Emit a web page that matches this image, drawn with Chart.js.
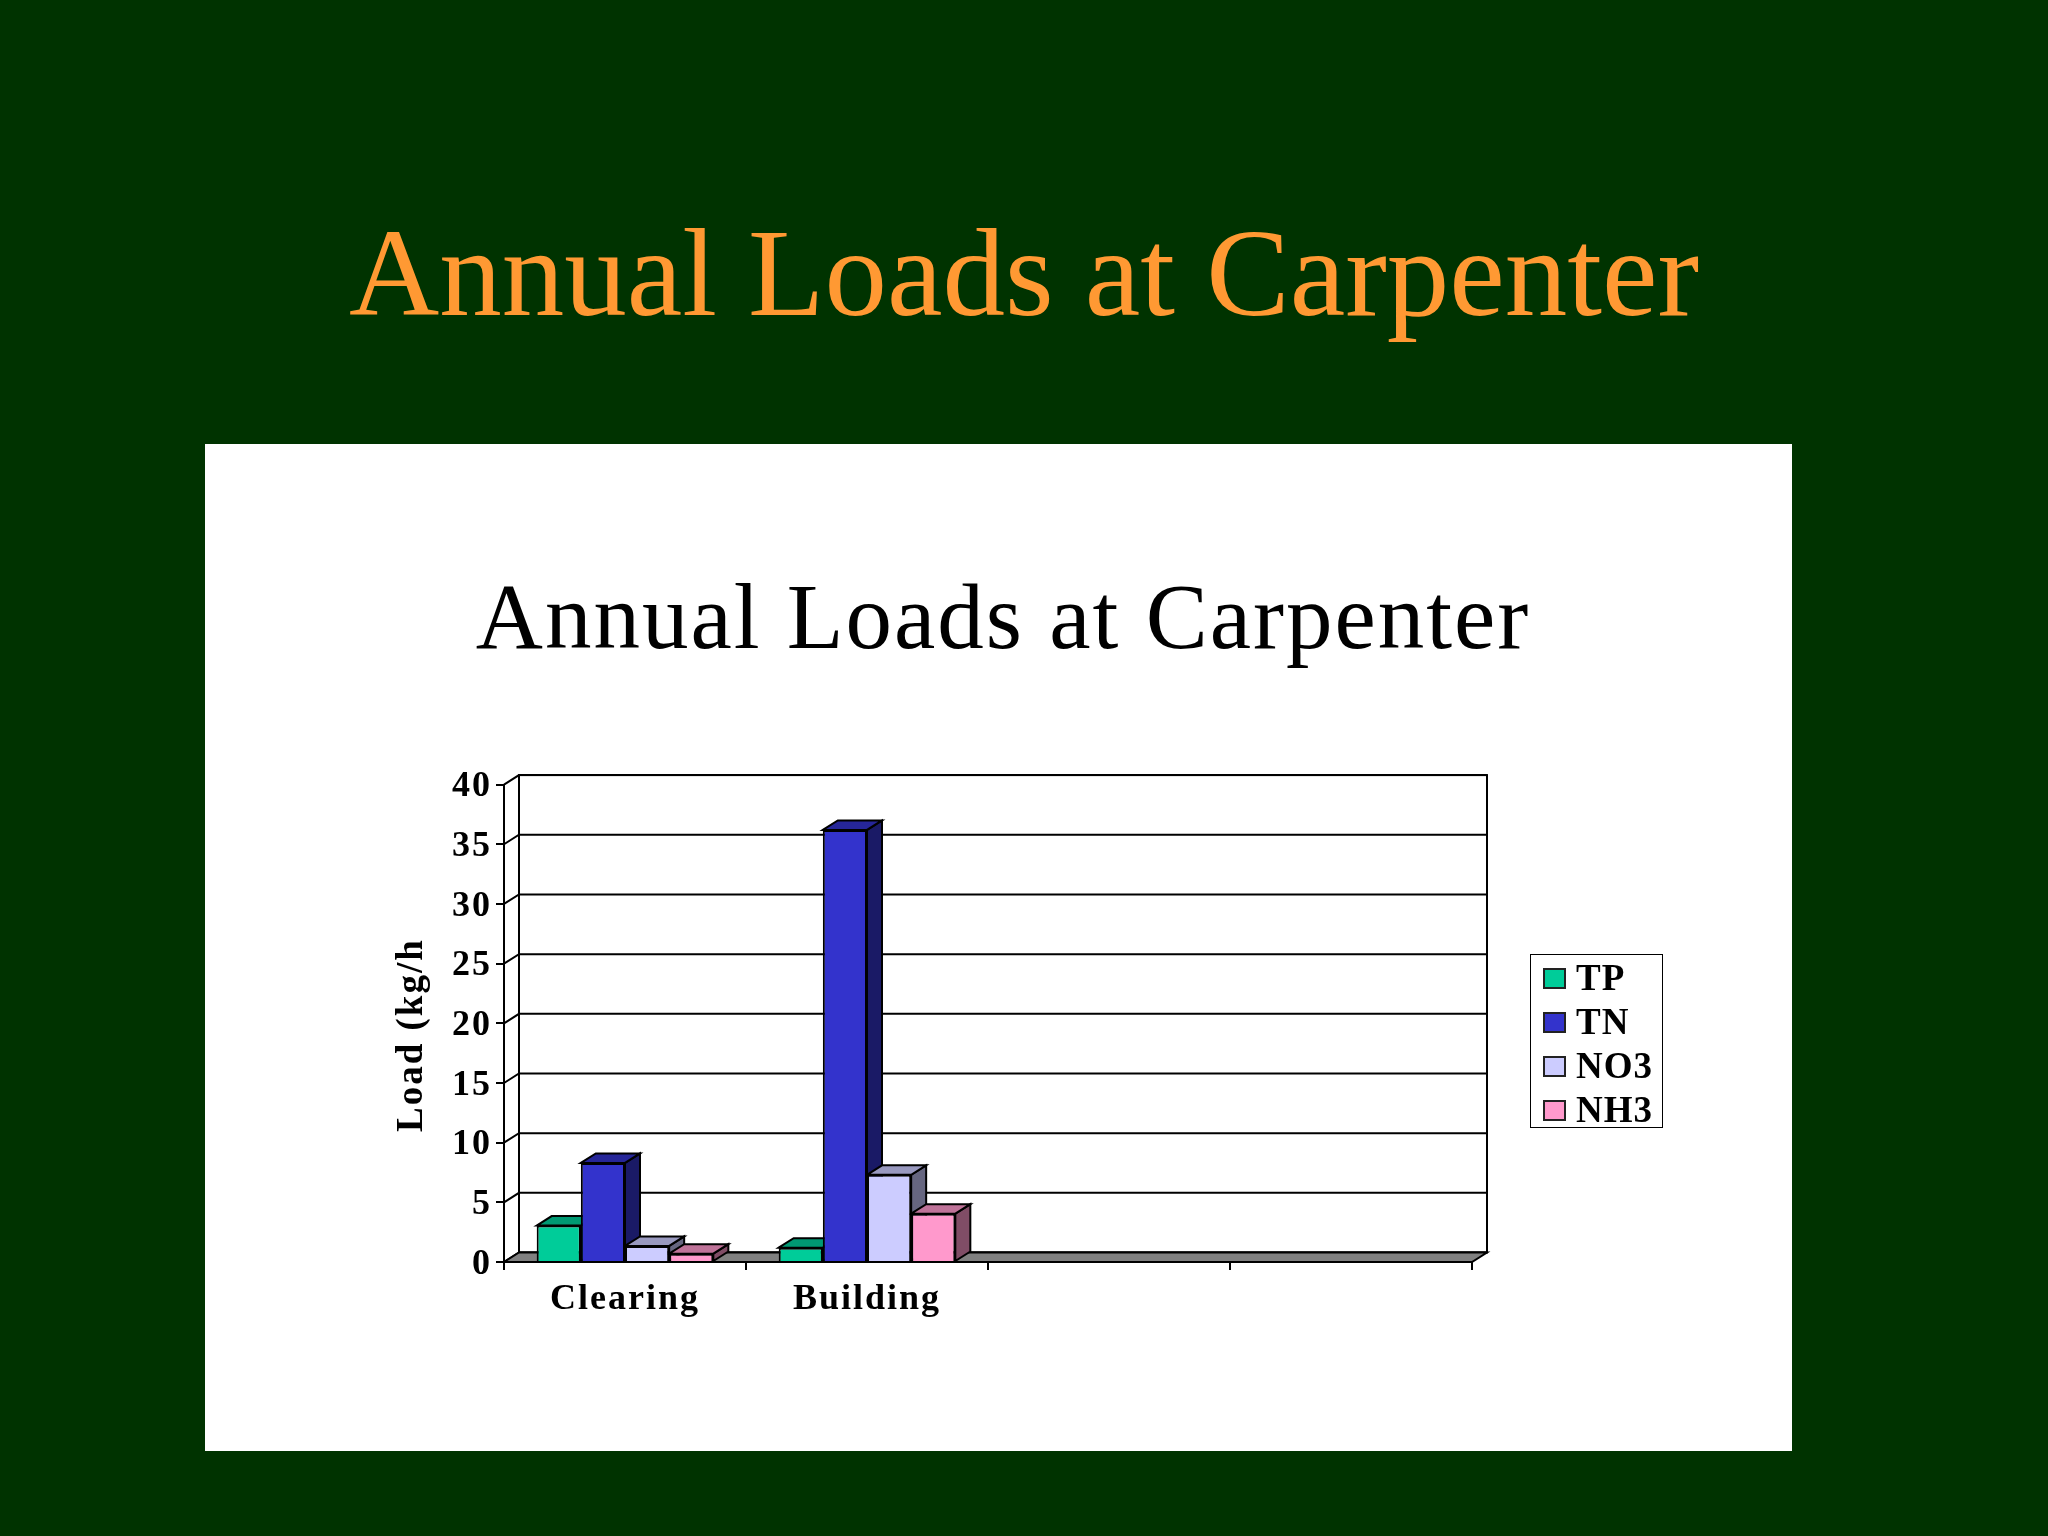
<!DOCTYPE html>
<html>
<head>
<meta charset="utf-8">
<title>Annual Loads at Carpenter</title>
<script src="https://cdn.jsdelivr.net/npm/chart.js@4"></script>
<style>
    html, body { margin: 0; padding: 0; background: #003300; }
    body { width: 2048px; height: 1536px; position: relative; overflow: hidden; font-family: 'Liberation Serif', serif; }
    #heading { position: absolute; left: 0; width: 2048px; top: 203px; margin: 0; text-align: center; font-size: 125px; line-height: 140px; font-weight: normal; color: #ff9933; }
    #panel { position: absolute; left: 205px; top: 444px; width: 1587px; height: 1007px; background: #fff; }
    #chart1 { position: absolute; left: 214px; top: 444px; }
    #legend { position: absolute; left: 1530px; top: 954px; width: 131px; height: 172px; border: 1.5px solid #000; background: #fff; font-weight: bold; font-size: 37px; letter-spacing: 1px; }
    #legend div { position: absolute; left: 45px; line-height: 40px; }
    #legend span { position: absolute; left: -33px; top: 10px; width: 19px; height: 17px; border: 2px solid #222; }
</style>
</head>
<body>
<h1 id="heading">Annual Loads at Carpenter</h1>
<div id="panel"></div>
<canvas id="chart1" width="1578" height="1007"></canvas>
<div id="legend"></div>
<script>
// Making the slide chart with chart.js, the 3D look comes from a small plugin
const categories = ['Clearing', 'Building', '', '']
const seriesNames = ['TP', 'TN', 'NO3', 'NH3']
const tpValues = [3.05, 1.2]
const tnValues = [8.3, 36.2]
const no3Values = [1.35, 7.3]
const nh3Values = [0.7, 4.05]
const frontColors = ['#00cc99', '#3333cc', '#ccccff', '#ff99cc']
const topColors = ['#009973', '#262699', '#9999bf', '#bf7399']
const sideColors = ['#006650', '#1a1a66', '#666680', '#804d66']

const depthX = 15
const depthY = 9.5
const lineW = 2
const serif = 'Liberation Serif'

function poly(ctx, points, fill) {
    ctx.beginPath()
    points.forEach((p, i) => (i ? ctx.lineTo(p[0], p[1]) : ctx.moveTo(p[0], p[1])))
    ctx.closePath()
    if (fill) {
        ctx.fillStyle = fill
        ctx.fill()
    }
    ctx.stroke()
}

const threeD = {
    id: 'threeD',
    afterLayout(chart) {
        // title is centred on the whole canvas, not on the part left of the legend
        chart.titleBlock.right = chart.width
    },
    beforeDraw(chart) {
        // the original text is a bit wider than this font
        chart.ctx.letterSpacing = '2px'
    },
    beforeDatasetsDraw(chart) {
        const { ctx, chartArea: a, scales } = chart
        ctx.save()
        ctx.strokeStyle = '#000'
        ctx.lineWidth = lineW
        // back wall and its grid lines
        ctx.strokeRect(a.left + depthX, a.top - depthY, a.right - a.left, a.bottom - a.top)
        scales.y.ticks.forEach((t) => {
            const y = scales.y.getPixelForValue(t.value)
            ctx.beginPath()
            ctx.moveTo(a.left, y)
            ctx.lineTo(a.left + depthX, y - depthY)
            ctx.lineTo(a.right + depthX, y - depthY)
            ctx.stroke()
        })
        // floor
        poly(ctx, [
            [a.left, a.bottom],
            [a.right, a.bottom],
            [a.right + depthX, a.bottom - depthY],
            [a.left + depthX, a.bottom - depthY],
        ], '#808080')
        // sides and tops go first, the bar fronts are drawn over them
        seriesNames.forEach((name, i) => {
            chart.getDatasetMeta(i).data.forEach((bar) => {
                const l = bar.x - bar.width / 2
                const r = bar.x + bar.width / 2
                poly(ctx, [[r, bar.y], [r + depthX, bar.y - depthY], [r + depthX, bar.base - depthY], [r, bar.base]], sideColors[i])
                poly(ctx, [[l, bar.y], [l + depthX, bar.y - depthY], [r + depthX, bar.y - depthY], [r, bar.y]], topColors[i])
            })
        })
        ctx.restore()
    },
    afterDraw(chart) {
        // the axis title is cut off in the original slide
        chart.ctx.fillStyle = '#fff'
        chart.ctx.fillRect(150, 300, 80, 194)
    },
}

const allValues = [tpValues, tnValues, no3Values, nh3Values]

const chart1 = new Chart(document.getElementById('chart1'), {
    type: 'bar',
    data: {
        labels: categories,
        datasets: seriesNames.map((name, i) => ({
            label: name,
            data: allValues[i],
            backgroundColor: frontColors[i],
            borderColor: '#000',
            borderWidth: lineW,
        })),
    },
    plugins: [threeD],
    options: {
        responsive: false,
        animation: false,
        devicePixelRatio: 1,
        categoryPercentage: 0.73,
        barPercentage: 1,
        layout: { padding: { right: 320 } },
        plugins: {
            legend: { display: false },
            tooltip: { enabled: false },
            title: {
                display: true,
                text: 'Annual Loads at Carpenter',
                color: '#000',
                font: { family: serif, size: 93, weight: 'normal' },
                padding: { top: 124, bottom: 105 },
            },
        },
        scales: {
            x: {
                afterFit: (scale) => {
                    scale.height = 189
                },
                grid: { drawOnChartArea: false, color: '#000', lineWidth: lineW, tickLength: 8, offset: true },
                border: { color: '#000', width: lineW },
                ticks: {
                    color: '#000',
                    padding: 8,
                    autoSkip: false,
                    maxRotation: 0,
                    font: { family: serif, size: 36, weight: 'bold' },
                },
            },
            y: {
                min: 0,
                max: 40,
                afterFit: (scale) => {
                    scale.width = 290
                },
                grid: { drawOnChartArea: false, color: '#000', lineWidth: lineW, tickLength: 8 },
                border: { color: '#000', width: lineW },
                title: {
                    display: true,
                    // a leading no-break space pushes the text up along the axis
                    text: '\u00a0Load (kg/ha)',
                    color: '#000',
                    font: { family: serif, size: 37, weight: 'bold' },
                    padding: { top: 176, bottom: 0 },
                },
                ticks: {
                    stepSize: 5,
                    color: '#000',
                    padding: 4,
                    labelOffset: 2.5,
                    font: { family: serif, size: 36, weight: 'bold' },
                },
            },
        },
    },
})

// legend box, same names and colours as the datasets
const legendBox = document.getElementById('legend')
seriesNames.forEach((name, i) => {
    const row = document.createElement('div')
    row.style.top = 3 + i * 43.9 + 'px'
    row.textContent = name
    const swatch = document.createElement('span')
    swatch.style.background = frontColors[i]
    row.appendChild(swatch)
    legendBox.appendChild(row)
})
</script>
</body>
</html>
